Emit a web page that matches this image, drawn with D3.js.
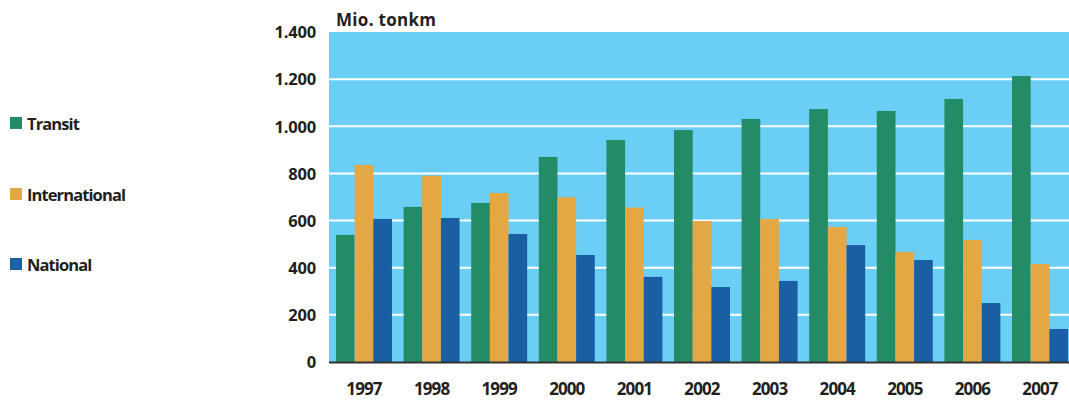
<!DOCTYPE html>
<html><head><meta charset="utf-8">
<script src="https://cdn.jsdelivr.net/npm/d3@7"></script>
<style>body{margin:0;background:#fff}svg{display:block}</style>
</head><body>
<script>
const years = ["1997","1998","1999","2000","2001","2002","2003","2004","2005","2006","2007"];
const seriesNames = ["Transit","International","National"];
const transit = [539,658,675,870,942,984,1031,1073,1065,1116,1213];
const international = [836,790,717,699,655,598,607,573,467,518,416];
const national = [607,611,543,454,361,318,344,496,433,250,140];
const yTicks = [0,200,400,600,800,1000,1200,1400];
const colors = ["#238b65","#e3a843","#1a5fa3"];
const unitLabel = "Mio. tonkm";

(function(){
const W = 1069, H = 400;
const svg = d3.select("body").append("svg").attr("width", W).attr("height", H);
const font = "'Open Sans', sans-serif";
const pL = 329, pR = 1069, pT = 32, pB = 362;

const y = d3.scaleLinear().domain([0,1400]).range([pB, pT]);
const x = d3.scaleBand().domain(years).range([pL, 1075]).paddingInner(0.172).paddingOuter(0.1036);
const xs = d3.scaleBand().domain(seriesNames).range([0, x.bandwidth()]);
const color = d3.scaleOrdinal().domain(seriesNames).range(colors);
const values = [transit, international, national];

svg.append("rect").attr("x", pL).attr("y", pT).attr("width", pR-pL).attr("height", pB-pT).attr("fill", "#6bcff5");

svg.append("g").selectAll("line").data(yTicks.filter(d=>d>0 && d<1400)).join("line")
  .attr("x1", pL).attr("x2", pR).attr("y1", d=>y(d)).attr("y2", d=>y(d))
  .attr("stroke", "#fff").attr("stroke-width", 2);

const g = svg.append("g");
years.forEach((yr, i) => {
  seriesNames.forEach((s, j) => {
    g.append("rect")
      .attr("x", x(yr) + xs(s))
      .attr("y", y(values[j][i]))
      .attr("width", xs.bandwidth())
      .attr("height", y(0) - y(values[j][i]))
      .attr("fill", color(s));
  });
});

svg.append("line").attr("x1", pL).attr("x2", pR).attr("y1", y(0)+0.5).attr("y2", y(0)+0.5)
  .attr("stroke", "#333").attr("stroke-width", 2);

const fmt = d => d3.format(",")(d).replace(/,/g, ".");
const yAxis = d3.axisLeft(y).tickValues(yTicks).tickFormat(fmt).tickSize(0).tickPadding(0);
const ya = svg.append("g").attr("transform", `translate(${316},0)`).call(yAxis);
ya.select(".domain").remove();
ya.selectAll("text").attr("font-family", font).attr("font-weight", "bold").attr("font-size", 16.5)
  .attr("fill", "#231f20").attr("letter-spacing", -0.2).attr("dy", "0.35em");

const xAxis = d3.axisBottom(x).tickSize(0).tickPadding(0);
const xa = svg.append("g").attr("transform", `translate(0,${395})`).call(xAxis);
xa.select(".domain").remove();
xa.selectAll("text").attr("font-family", font).attr("font-weight", "bold").attr("font-size", 17)
  .attr("fill", "#231f20").attr("letter-spacing", -0.9).attr("dy", 0);

svg.append("text").attr("x", 336).attr("y", 26).text(unitLabel)
  .attr("font-family", font).attr("font-weight", "bold").attr("font-size", 17).attr("fill", "#231f20").attr("letter-spacing", 0.3);

const legY = [117, 188, 258];
seriesNames.forEach((s, j) => {
  svg.append("rect").attr("x", 10).attr("y", legY[j]).attr("width", 12).attr("height", 12).attr("fill", color(s));
  svg.append("text").attr("x", 27).attr("y", legY[j] + 12.5).text(s)
    .attr("font-family", font).attr("font-weight", "bold").attr("font-size", 16.5).attr("fill", "#231f20").attr("letter-spacing", -0.9);
});
})();
</script>
</body></html>
